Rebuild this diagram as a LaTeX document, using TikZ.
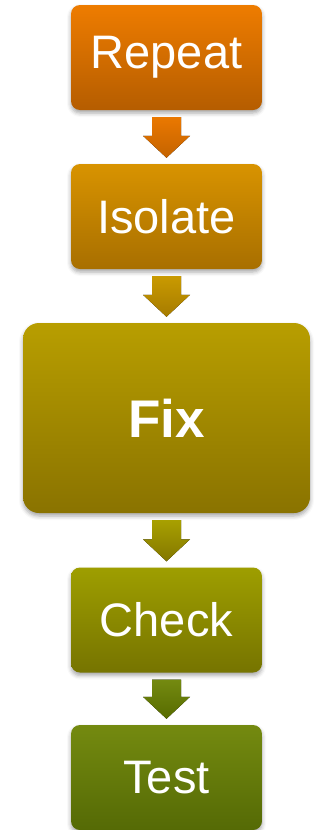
\documentclass[tikz,border=0pt]{standalone}
\usepackage{fontspec}
\setmainfont{Liberation Sans}
\usetikzlibrary{calc,shadows.blur}
\definecolor{rA}{HTML}{EE7C00}\definecolor{rB}{HTML}{B55D00}
\definecolor{aA1}{HTML}{EA7800}\definecolor{aB1}{HTML}{C46300}
\definecolor{iA}{HTML}{D89300}\definecolor{iB}{HTML}{A86F00}
\definecolor{aA2}{HTML}{C99A00}\definecolor{aB2}{HTML}{A67B00}
\definecolor{fA}{HTML}{B89E00}\definecolor{fB}{HTML}{8A7300}
\definecolor{aA3}{HTML}{A8A000}\definecolor{aB3}{HTML}{837700}
\definecolor{cA}{HTML}{9E9E00}\definecolor{cB}{HTML}{767400}
\definecolor{aA4}{HTML}{748A10}\definecolor{aB4}{HTML}{576B00}
\definecolor{tA}{HTML}{748A10}\definecolor{tB}{HTML}{556A05}
\tikzset{
  box/.style={rounded corners=9pt, inner sep=0pt, text=white,
    minimum width=191pt, minimum height=105pt,
    font=\fontsize{47}{56}\selectfont,
    blur shadow={shadow xshift=0pt, shadow yshift=-3pt, shadow blur radius=4pt, shadow opacity=35}},
  bigbox/.style={box, rounded corners=16pt, minimum width=287pt, minimum height=190pt,
    font=\fontsize{53}{60}\selectfont\bfseries}
}
\newcommand\blockarr[4]{%
  \fill[top color=#3, bottom color=#4]
    ($(#1.south)+(-14.5pt,-7pt)$) -- ($(#1.south)+(14.5pt,-7pt)$)
    -- ($(#2.north)+(14.5pt,28pt)$) -- ($(#2.north)+(23.5pt,28pt)$)
    -- ($(#2.north)+(0pt,6pt)$) -- ($(#2.north)+(-23.5pt,28pt)$)
    -- ($(#2.north)+(-14.5pt,28pt)$) -- cycle;}
\begin{document}
\begin{tikzpicture}[x=1pt,y=-1pt]
\useasboundingbox (0,0) rectangle (321,830);
\node[box, top color=rA, bottom color=rB] (rep) at (166.5,57.5) {Repeat};
\node[box, top color=iA, bottom color=iB] (iso) at (166.5,216.5) {Isolate};
\node[bigbox, top color=fA, bottom color=fB] (fix) at (166.5,418) {Fix};
\node[box, top color=cA, bottom color=cB] (chk) at (166.5,620) {Check};
\node[box, top color=tA, bottom color=tB] (tst) at (166.5,777.5) {Test};
\blockarr{rep}{iso}{aA1}{aB1}
\blockarr{iso}{fix}{aA2}{aB2}
\blockarr{fix}{chk}{aA3}{aB3}
\blockarr{chk}{tst}{aA4}{aB4}
\end{tikzpicture}
\end{document}
